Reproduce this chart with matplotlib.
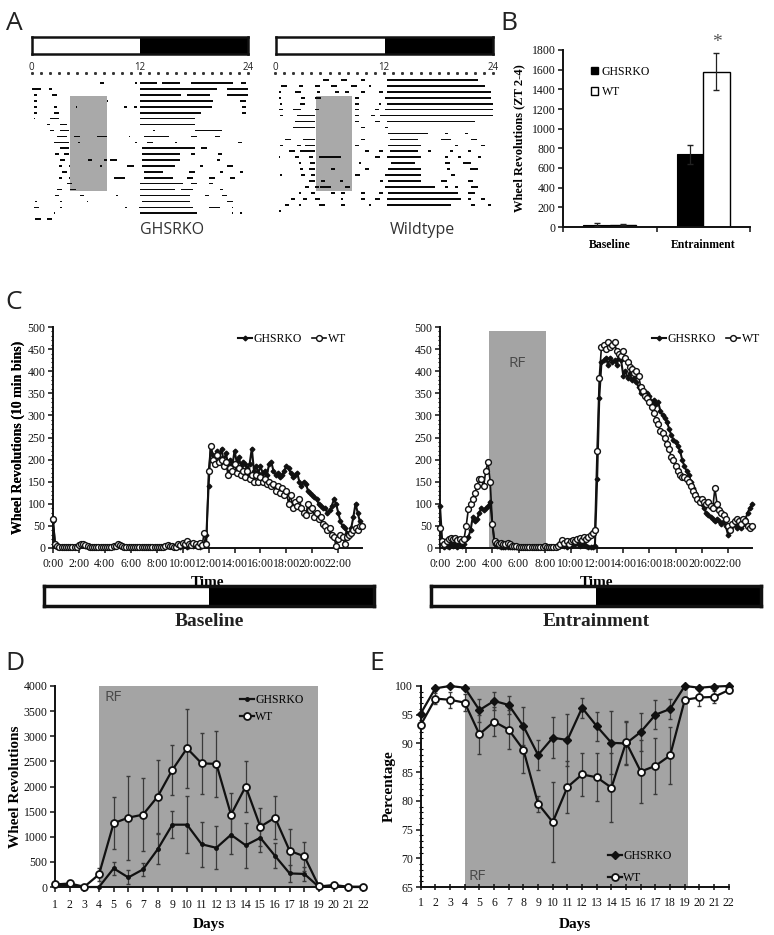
import matplotlib
matplotlib.use('Agg')
import matplotlib.pyplot as plt
from matplotlib.patches import Rectangle, Patch
import numpy as np

# ======================= DATA =======================
# Panel A: actogram activity segments (start hour, end hour) per day row
KO_ROWS = [
    [(7.6, 8.0), (11.5, 11.7), (12.0, 13.9), (14.4, 16.4), (17.7, 22.3), (23.2, 23.8)],
    [(0.1, 1.0), (1.9, 2.3), (12.0, 20.5), (21.6, 24.0)],
    [(0.3, 0.6), (2.3, 2.8), (12.0, 16.5), (17.2, 19.8), (21.6, 24.0)],
    [(0.3, 0.6), (8.4, 8.5), (12.0, 20.1), (23.1, 23.8)],
    [(0.3, 0.6), (2.5, 2.8), (4.9, 5.0), (10.2, 10.6), (11.3, 11.7), (12.0, 19.95), (23.3, 23.8)],
    [(0.3, 0.6), (2.5, 3.0), (12.0, 18.8), (23.3, 23.8)],
    [(0.3, 0.4), (2.1, 3.0), (12.0, 18.1)],
    [(1.7, 2.1), (3.2, 3.9), (12.0, 18.1)],
    [(2.1, 2.5), (3.2, 4.1), (13.5, 13.7), (18.1, 21.05)],
    [(2.8, 3.9), (4.7, 5.4), (7.3, 8.35), (10.75, 10.9), (12.4, 15.2), (17.7, 18.3), (20.3, 20.9)],
    [(2.5, 3.6), (3.6, 4.1), (5.2, 5.4), (11.5, 11.7), (12.8, 13.5), (15.9, 16.1), (22.9, 23.3)],
    [(3.2, 4.1), (12.2, 18.1), (18.8, 19.4)],
    [(2.65, 3.0), (3.6, 4.1), (12.2, 16.45), (17.7, 18.1), (20.7, 21.05)],
    [(3.2, 3.75), (6.3, 6.7), (8.0, 8.35), (8.7, 9.5), (12.2, 16.45), (20.5, 20.9)],
    [(3.0, 3.4), (4.1, 4.3), (7.6, 7.8), (10.6, 11.3), (12.2, 15.9), (18.7, 19.0), (21.6, 22.3)],
    [(3.4, 3.9), (12.4, 14.6), (17.4, 18.1), (20.9, 21.2), (23.1, 23.4)],
    [(3.0, 3.4), (4.1, 4.3), (9.1, 10.4), (12.4, 15.7), (17.2, 17.9), (19.6, 20.3), (22.0, 22.5)],
    [(3.9, 4.5), (12.0, 16.8), (17.7, 18.3), (19.6, 20.1)],
    [(2.8, 3.4), (4.3, 4.9), (12.0, 15.9), (16.6, 17.9), (20.9, 21.2)],
    [(2.65, 3.0), (5.4, 5.8), (9.3, 9.6), (12.0, 17.6), (19.2, 19.6), (21.05, 21.6)],
    [(0.4, 0.6), (3.2, 3.4), (6.15, 6.3), (12.2, 17.6), (21.6, 22.3)],
    [(0.3, 0.8), (3.2, 3.4), (10.4, 10.6), (11.85, 17.9), (19.6, 20.9), (22.2, 22.3)],
    [(2.5, 2.65), (12.0, 18.3), (22.2, 22.3), (23.1, 23.3)],
    [(0.4, 1.0), (1.7, 2.3)],
]
WT_ROWS = [
    [(5.3, 5.9), (7.3, 7.9), (9.5, 9.9), (12.3, 22.3)],
    [(0.7, 1.3), (2.6, 3.1), (4.4, 4.95), (6.2, 6.8), (8.4, 9.0), (10.3, 10.6), (12.3, 23.1)],
    [(0.4, 0.7), (2.2, 2.9), (4.6, 4.95), (6.6, 7.0), (7.7, 8.1), (9.5, 9.9), (11.4, 11.9), (12.3, 23.8)],
    [(0.4, 0.7), (2.9, 3.3), (4.4, 5.1), (8.8, 9.2), (12.1, 23.8)],
    [(0.55, 0.73), (2.75, 3.3), (8.8, 9.2), (11.4, 11.7), (12.3, 24.0)],
    [(0.4, 0.9), (2.0, 2.9), (4.4, 4.8), (8.8, 9.2), (11.0, 11.4), (12.1, 24.0)],
    [(0.55, 0.9), (2.4, 4.4), (8.8, 9.2), (10.6, 11.0), (11.5, 24.0)],
    [(2.2, 4.4), (8.8, 9.2), (11.0, 11.5), (12.3, 21.98)],
    [(2.0, 4.4), (9.5, 9.9), (12.1, 12.45)],
    [(12.45, 16.85), (18.7, 19.05), (20.9, 21.25)],
    [(1.1, 1.8), (3.1, 4.4), (9.5, 9.9), (12.6, 15.75), (18.3, 19.4), (21.6, 22.2)],
    [(0.55, 0.9), (2.4, 2.9), (3.3, 4.4), (8.8, 9.2), (12.45, 16.1), (19.8, 20.15), (22.7, 23.1)],
    [(1.5, 2.2), (2.75, 4.4), (9.9, 10.3), (11.4, 11.9), (12.6, 15.75), (16.85, 17.2), (19.2, 19.6), (21.25, 21.6)],
    [(0.4, 0.55), (2.2, 2.6), (3.7, 4.2), (4.8, 7.3), (11.0, 11.5), (12.3, 16.1), (18.7, 19.05), (20.15, 20.5), (22.3, 22.7)],
    [(2.6, 2.9), (3.85, 4.4), (9.2, 9.5), (12.8, 15.4), (18.7, 19.2), (20.7, 21.6)],
    [(2.75, 3.1), (3.7, 4.4), (6.2, 6.6), (9.9, 10.3), (12.45, 16.1), (18.9, 19.2), (21.4, 22.3)],
    [(0.55, 0.73), (2.9, 3.3), (4.0, 4.4), (8.8, 9.3), (12.1, 16.1), (19.4, 19.8)],
    [(3.7, 4.4), (5.1, 5.5), (7.1, 7.5), (11.5, 11.9), (12.45, 16.1), (18.3, 18.9), (21.25, 21.8)],
    [(3.3, 3.7), (4.4, 4.8), (4.95, 6.2), (7.7, 8.2), (12.1, 17.6), (18.7, 19.05), (19.8, 20.15), (21.6, 22.3)],
    [(2.6, 2.9), (4.0, 4.4), (6.2, 6.6), (7.3, 7.7), (9.5, 9.9), (11.4, 11.9), (12.45, 20.15), (21.25, 21.98)],
    [(1.8, 2.2), (3.1, 3.5), (4.4, 4.95), (7.3, 7.5), (9.5, 9.9), (11.0, 11.5), (12.3, 20.5), (21.25, 21.6), (22.7, 23.1)],
    [(1.1, 1.5), (2.6, 2.9), (4.8, 5.5), (7.3, 7.7), (10.3, 10.6), (12.3, 19.4), (21.6, 21.98), (23.4, 23.8)],
    [(0.4, 0.7)],
]
KO_RF_HOURS = (4.3, 8.35)
KO_RF_ROWS = (1.95, 18.05)
WT_RF_HOURS = (4.5, 8.5)
WT_RF_ROWS = (2.5, 18.5)

# Panel B
B_CATS = ['Baseline', 'Entrainment']
B_KO = [25, 740]
B_KO_ERR = [12, 95]
B_WT = [25, 1580]
B_WT_ERR = [8, 185]

# Panel C: 10-min bins over 24 h
TIME_LABELS = ['0:00', '2:00', '4:00', '6:00', '8:00', '10:00', '12:00',
               '14:00', '16:00', '18:00', '20:00', '22:00']
BASE_KO = [
    60, 8, 3, 2, 2, 2,   2, 2, 2, 2, 3, 2,   5, 8, 6, 4, 3, 3,   2, 2, 3, 2, 2, 3,
    2, 3, 2, 2, 3, 4,    6, 5, 3, 2, 2, 3,   2, 2, 2, 2, 2, 2,   2, 2, 2, 2, 2, 2,
    2, 2, 2, 3, 3, 4,    5, 4, 3, 2, 5, 3,   4, 6, 3, 5, 8, 4,   6, 8, 3, 5, 10, 30,
    140, 230, 210, 200, 220, 205,   225, 195, 215, 190, 200, 185,
    220, 195, 205, 185, 195, 190,   180, 190, 225, 175, 185, 170,
    185, 170, 175, 165, 190, 195,   175, 165, 170, 160, 165, 175,
    185, 180, 170, 160, 165, 170,   150, 140, 150, 145, 130, 125,
    120, 115, 110, 100, 95, 90,     90, 80, 85, 95, 110, 100,
    80, 60, 50, 45, 35, 30,         45, 70, 100, 80, 60, 50]
BASE_WT = [
    65, 10, 4, 2, 2, 2,  2, 2, 2, 2, 3, 2,   6, 10, 8, 6, 4, 3,  2, 2, 3, 2, 2, 3,
    2, 3, 2, 3, 4, 5,    8, 6, 4, 2, 3, 3,   2, 2, 2, 2, 2, 2,   2, 2, 2, 2, 2, 2,
    2, 2, 2, 3, 4, 6,    5, 4, 3, 2, 10, 6,  12, 8, 15, 10, 6, 12,  8, 5, 12, 6, 35, 10,
    175, 230, 200, 190, 210, 195,   200, 185, 195, 165, 180, 175,
    190, 170, 180, 165, 175, 160,   175, 155, 165, 150, 165, 150,
    160, 150, 155, 145, 150, 140,   145, 130, 140, 125, 135, 120,
    130, 100, 120, 90, 105, 95,     110, 90, 80, 75, 100, 85,
    90, 70, 80, 65, 70, 55,         50, 40, 45, 30, 25, 5,
    20, 30, 25, 10, 25, 30,         35, 40, 45, 40, 50, 50]
ENT_KO = [
    95, 15, 2, 5, 3, 8,   5, 10, 3, 8, 5, 10,   20, 25, 40, 70, 60, 65,
    80, 90, 85, 90, 95, 105,   55, 10, 5, 4, 3, 3,   3, 2, 2, 2, 2, 2,
    2, 2, 2, 2, 2, 2,   2, 2, 2, 2, 2, 2,   3, 2, 2, 2, 2, 3,
    3, 5, 10, 5, 3, 8,   5, 10, 8, 12, 5, 10,   8, 5, 3, 2, 3, 5,
    155, 340, 420, 425, 430, 415,   430, 420, 425, 415, 430, 425,
    390, 400, 385, 395, 380, 385,   375, 365, 350, 355, 345, 350,
    345, 330, 335, 325, 330, 310,   300, 295, 285, 270, 255, 245,
    240, 230, 220, 200, 185, 175,   165, 150, 135, 125, 115, 110,
    100, 90, 80, 75, 70, 65,        60, 65, 60, 55, 60, 50,
    30, 40, 50, 55, 45, 50,         45, 55, 65, 80, 90, 100]
ENT_WT = [
    45, 15, 10, 15, 20, 22,   20, 22, 18, 20, 15, 20,   50, 88, 100, 110, 125, 140,
    155, 155, 140, 175, 195, 150,   55, 15, 12, 10, 12, 8,   10, 12, 8, 5, 5, 4,
    3, 3, 3, 2, 3, 2,   2, 2, 2, 2, 3, 2,   5, 3, 2, 3, 2, 3,
    5, 10, 18, 12, 15, 10,   15, 18, 15, 20, 22, 18,   25, 20, 25, 30, 35, 40,
    220, 385, 455, 460, 450, 465,   455, 460, 465, 445, 440, 435,
    445, 430, 420, 410, 405, 395,   400, 390, 365, 355, 345, 340,
    330, 320, 305, 290, 280, 265,   260, 250, 235, 225, 205, 200,
    185, 175, 165, 160, 160, 155,   150, 140, 130, 120, 110, 105,
    110, 105, 100, 105, 95, 90,     135, 100, 85, 80, 75, 65,
    50, 40, 55, 60, 65, 60,         55, 65, 60, 50, 45, 50]
RF_C_HOURS = (3.73, 8.08)
RF_C_TOP = 490

# Panel D
DAYS = list(range(1, 23))
D_KO = [30, 40, 0, 0, 370, 190, 350, 750, 1240, 1240, 850, 780, 1040, 830, 980, 620, 270, 260, 0, 10, 0, 0]
D_KO_ERR = [20, 20, 0, 0, 130, 140, 125, 300, 270, 570, 450, 425, 380, 450, 290, 250, 170, 140, 0, 10, 0, 0]
D_WT = [50, 70, 5, 250, 1270, 1380, 1440, 1800, 2330, 2760, 2460, 2450, 1440, 2000, 1200, 1380, 720, 610, 10, 40, 5, 5]
D_WT_ERR = [30, 30, 5, 130, 520, 835, 725, 720, 495, 780, 605, 660, 440, 500, 380, 430, 430, 290, 10, 20, 5, 5]
RF_DAYS = (4, 18.9)

# Panel E
E_KO = [95.2, 99.6, 100.0, 99.7, 95.8, 97.4, 96.7, 93.0, 88.0, 91.0, 90.6, 96.2, 93.0, 90.1, 90.0, 92.0, 95.0, 96.0, 100.0, 99.7, 99.9, 100.0]
E_KO_ERR = [0.5, 0.4, 0.2, 0.4, 2.0, 1.5, 1.5, 3.3, 2.6, 3.6, 4.6, 1.7, 2.5, 5.5, 3.8, 3.3, 2.5, 1.8, 0.1, 0.3, 0.2, 0.1]
E_WT = [93.2, 97.8, 97.6, 97.1, 91.6, 93.8, 92.4, 88.9, 79.5, 76.3, 82.4, 84.6, 84.1, 82.3, 90.2, 85.1, 86.1, 87.9, 97.6, 98.0, 98.1, 99.3]
E_WT_ERR = [0.5, 1.0, 1.4, 1.5, 3.4, 2.5, 3.4, 4.0, 1.4, 6.9, 4.5, 3.7, 4.2, 6.0, 3.7, 5.5, 4.9, 4.9, 0.5, 1.4, 1.0, 0.4]
RF_E_DAYS = (4, 19.25)

# ======================= FIGURE =======================
W, H = 774, 935
SERIF = 'Liberation Serif'
SANS = 'Open Sans'
plt.rcParams['font.family'] = [SERIF, 'DejaVu Serif']
plt.rcParams['axes.linewidth'] = 1.3
GRAY = '#a4a4a4'

fig = plt.figure(figsize=(W / 100, H / 100), dpi=100)


def axpx(x0, y0, x1, y1):
    return fig.add_axes([x0 / W, 1 - y1 / H, (x1 - x0) / W, (y1 - y0) / H])


def ftext(x, y, s, **kw):
    fig.text(x / W, 1 - y / H, s, **kw)


def ld_bar(x0, y0, x1, y1, lw):
    ax = axpx(x0, y0, x1, y1)
    ax.set_xlim(0, 24)
    ax.set_ylim(0, 1)
    ax.add_patch(Rectangle((12, 0), 12, 1, facecolor='black', edgecolor='none'))
    for s in ax.spines.values():
        s.set_linewidth(lw)
        s.set_color('#111111')
    ax.set_xticks([])
    ax.set_yticks([])
    return ax


def excel_style(ax, fs=8.5):
    for s in ['top', 'right']:
        ax.spines[s].set_visible(False)
    for s in ['left', 'bottom']:
        ax.spines[s].set_linewidth(1.4)
        ax.spines[s].set_color('#111111')
    ax.tick_params(direction='out', length=3.5, width=1.1, labelsize=fs, pad=2, colors='#111111')


# panel letters
for letter, (x, y) in {'A': (14, 23), 'B': (509, 23), 'C': (14, 303), 'D': (15, 663), 'E': (377, 663)}.items():
    ftext(x, y, letter, fontsize=19, family=SANS, ha='center', va='center', color='#222222')

# ---------------- Panel A ----------------
def actogram(x0, x1, rows, row0_px, step, rf_h, rf_r):
    y_top_px, y_bot_px = 60, 232
    ax = axpx(x0, y_top_px, x1, y_bot_px)

    def py(px):
        return (px - row0_px) / step
    ax.set_xlim(0, 24)
    ax.set_ylim(py(y_bot_px), py(y_top_px))
    ax.axis('off')
    ax.add_patch(Rectangle((rf_h[0], rf_r[0]), rf_h[1] - rf_h[0], rf_r[1] - rf_r[0],
                           facecolor='#a9a9a9', edgecolor='none', zorder=1))
    for i, segs in enumerate(rows):
        ax.broken_barh([(s, e - s) for s, e in segs], (i - 0.27, 0.27),
                       facecolors='#0a0a0a', zorder=2)
    hrs = np.arange(25)
    ax.plot(hrs, [py(73)] * 25, ls='none', marker='s', ms=1.1, color='#333333', clip_on=False)
    for h in (0, 12, 24):
        ax.text(h, py(67), str(h), ha='center', va='center', fontsize=7, family=SANS, color='#222222')
    return ax


ld_bar(32, 37, 248, 54, 1.8)
ld_bar(276, 37, 493, 54, 1.8)
actogram(31.5, 248.3, KO_ROWS, 84, 5.91, KO_RF_HOURS, KO_RF_ROWS)
actogram(275, 493.3, WT_ROWS, 80.7, 5.95, WT_RF_HOURS, WT_RF_ROWS)
ftext(172, 230, 'GHSRKO', fontsize=11.5, family=SANS, ha='center', va='center', color='#333333')
ftext(422, 230, 'Wildtype', fontsize=11.5, family=SANS, ha='center', va='center', color='#333333')

# ---------------- Panel B ----------------
axB = axpx(563, 50, 750, 227)
excel_style(axB, 8.5)
xb = np.arange(len(B_CATS))
bw = 0.283
axB.bar(xb - bw / 2, B_KO, bw, color='black', edgecolor='black', linewidth=0.8, zorder=2)
axB.bar(xb + bw / 2, B_WT, bw, color='white', edgecolor='black', linewidth=1.0, zorder=2)
axB.errorbar(xb - bw / 2, B_KO, yerr=B_KO_ERR, fmt='none', ecolor='#222222', elinewidth=0.9, capsize=2, zorder=3)
axB.errorbar(xb + bw / 2, B_WT, yerr=B_WT_ERR, fmt='none', ecolor='#222222', elinewidth=0.9, capsize=2, zorder=3)
axB.set_xlim(-0.5, 1.5)
axB.set_ylim(0, 1800)
axB.set_yticks(np.arange(0, 1801, 200))
axB.set_xticks([-0.5, 0.5, 1.5])
axB.set_xticklabels([])
axB.set_xticks(xb, minor=True)
axB.set_xticklabels(B_CATS, minor=True, fontweight='bold', fontsize=8.5)
axB.tick_params(axis='x', which='minor', length=0, pad=9)
axB.set_ylabel('Wheel Revolutions (ZT 2-4)', fontweight='bold', fontsize=9)
axB.yaxis.set_label_coords((525 - 563) / 187, 0.5)
axB.text(1 + bw / 2, 1880, '*', ha='center', va='center', fontsize=14, color='#555555', clip_on=False)
axB.legend(handles=[Patch(facecolor='black', edgecolor='black'),
                    Patch(facecolor='white', edgecolor='black')],
           labels=['GHSRKO', 'WT'], loc='upper left',
           bbox_to_anchor=((585 - 563) / 187, 1 - (60 - 50) / 177),
           frameon=False, handlelength=0.6, handleheight=0.6, handletextpad=0.3,
           labelspacing=0.7, borderpad=0, fontsize=8.5)

# ---------------- Panel C ----------------
bins = np.arange(144)


def panel_c(x0, x1, ko, wt, legend_x, rf=None):
    ax = axpx(x0, 327, x1, 548)
    excel_style(ax, 8.5)
    if rf is not None:
        ax.add_patch(Rectangle((rf[0] * 6, 0), (rf[1] - rf[0]) * 6, RF_C_TOP,
                               facecolor=GRAY, edgecolor='none', zorder=0))
        ax.text(sum(rf) * 3, 418, 'RF', ha='center', va='center', fontsize=11,
                family=SANS, color='#4a4a4a')
    ax.plot(bins, ko, color='#111111', lw=1.5, marker='D', ms=2.4, mfc='#111111',
            mec='#111111', label='GHSRKO', zorder=3, clip_on=False)
    ax.plot(bins, wt, color='#111111', lw=1.2, marker='o', ms=4.2, mfc='white',
            mec='#111111', mew=1.0, label='WT', zorder=4, clip_on=False)
    ax.set_xlim(0, 143)
    ax.set_ylim(0, 500)
    ax.set_yticks(np.arange(0, 501, 50))
    ax.set_yticks(np.arange(0, 501, 10), minor=True)
    ax.tick_params(axis='y', which='minor', direction='out', length=1.8, width=0.8)
    ax.set_xticks(np.arange(0, 144, 12))
    ax.set_xticklabels(TIME_LABELS)
    ax.tick_params(axis='x', pad=4)
    ax.set_xlabel('Time', fontweight='bold', fontsize=11)
    ax.xaxis.set_label_coords(0.5, -(576 - 548) / 221)
    ax.set_ylabel('Wheel Revolutions (10 min bins)', fontweight='bold', fontsize=10)
    ax.yaxis.set_label_coords((25 - x0) / (x1 - x0), 0.5)
    ax.legend(loc='upper left', bbox_to_anchor=((legend_x - x0) / (x1 - x0), 1.0),
              ncol=2, frameon=False, handlelength=1.2, handletextpad=0.1,
              columnspacing=0.9, borderpad=0, fontsize=8.5)
    return ax


panel_c(53, 362, BASE_KO, BASE_WT, 232)
panel_c(440, 752, ENT_KO, ENT_WT, 646, rf=RF_C_HOURS)
ld_bar(44, 586, 374, 606, 2.5)
ld_bar(431, 586, 761, 606, 2.5)
ftext(209, 621, 'Baseline', fontsize=14, fontweight='bold', ha='center', va='center', color='#222222')
ftext(596, 621, 'Entrainment', fontsize=14, fontweight='bold', ha='center', va='center', color='#222222')

# ---------------- Panel D ----------------
axD = axpx(55, 686, 363, 887)
excel_style(axD, 8.5)
axD.add_patch(Rectangle((RF_DAYS[0], 0), RF_DAYS[1] - RF_DAYS[0], 4000,
                        facecolor=GRAY, edgecolor='none', zorder=0))
axD.text(4.35, 3780, 'RF', ha='left', va='center', fontsize=11, family=SANS, color='#4a4a4a')
axD.errorbar(DAYS, D_KO, yerr=D_KO_ERR, fmt='none', ecolor='#3a3a3a', elinewidth=0.9, capsize=1.5, zorder=2)
axD.errorbar(DAYS, D_WT, yerr=D_WT_ERR, fmt='none', ecolor='#3a3a3a', elinewidth=0.9, capsize=1.5, zorder=2)
axD.plot(DAYS, D_KO, color='#111111', lw=1.6, marker='o', ms=2.5, mfc='#111111', label='GHSRKO',
         zorder=3, clip_on=False)
axD.plot(DAYS, D_WT, color='#111111', lw=1.6, marker='o', ms=5, mfc='white', mec='#111111', mew=1.3,
         label='WT', zorder=4, clip_on=False)
axD.set_xlim(1, 22)
axD.set_ylim(0, 4000)
axD.set_xticks(DAYS)
axD.set_yticks(np.arange(0, 4001, 500))
axD.tick_params(axis='x', pad=5)
axD.set_xlabel('Days', fontweight='bold', fontsize=11)
axD.xaxis.set_label_coords(0.5, -(918 - 887) / 201)
axD.set_ylabel('Wheel Revolutions', fontweight='bold', fontsize=11)
axD.yaxis.set_label_coords((22 - 55) / 308, 0.5)
axD.legend(loc='upper left', bbox_to_anchor=((234 - 55) / 308, 0.99), frameon=False,
           handlelength=1.2, handletextpad=0.1, labelspacing=0.45, borderpad=0, fontsize=8.5)

# ---------------- Panel E ----------------
axE = axpx(420.7, 686, 728.8, 887)
excel_style(axE, 8.5)
axE.add_patch(Rectangle((RF_E_DAYS[0], 65), RF_E_DAYS[1] - RF_E_DAYS[0], 35,
                        facecolor=GRAY, edgecolor='none', zorder=0))
axE.text(4.25, 66.9, 'RF', ha='left', va='center', fontsize=11, family=SANS, color='#4a4a4a')
axE.errorbar(DAYS, E_KO, yerr=E_KO_ERR, fmt='none', ecolor='#3a3a3a', elinewidth=0.9, capsize=1.5, zorder=2)
axE.errorbar(DAYS, E_WT, yerr=E_WT_ERR, fmt='none', ecolor='#3a3a3a', elinewidth=0.9, capsize=1.5, zorder=2)
axE.plot(DAYS, E_KO, color='#111111', lw=1.6, marker='D', ms=4, mfc='#111111', label='GHSRKO',
         zorder=3, clip_on=False)
axE.plot(DAYS, E_WT, color='#111111', lw=1.6, marker='o', ms=5, mfc='white', mec='#111111', mew=1.3,
         label='WT', zorder=4, clip_on=False)
axE.set_xlim(1, 22)
axE.set_ylim(65, 100)
axE.set_xticks(DAYS)
axE.set_yticks(np.arange(65, 101, 5))
axE.set_yticks(np.arange(65, 101, 1), minor=True)
axE.tick_params(axis='y', which='minor', direction='inout', length=3, width=0.8)
axE.tick_params(axis='x', direction='inout', length=5, pad=5)
axE.set_xlabel('Days', fontweight='bold', fontsize=11)
axE.xaxis.set_label_coords(0.5, -(918 - 887) / 201)
axE.set_ylabel('Percentage', fontweight='bold', fontsize=11)
axE.yaxis.set_label_coords((396 - 420.7) / 308, 0.5)
axE.legend(loc='upper left', bbox_to_anchor=((602 - 420.7) / 308, 1 - (844 - 686) / 201), frameon=False,
           handlelength=1.2, handletextpad=0.1, labelspacing=0.85, borderpad=0, fontsize=8.5)

fig.savefig('out.png', dpi=100)
